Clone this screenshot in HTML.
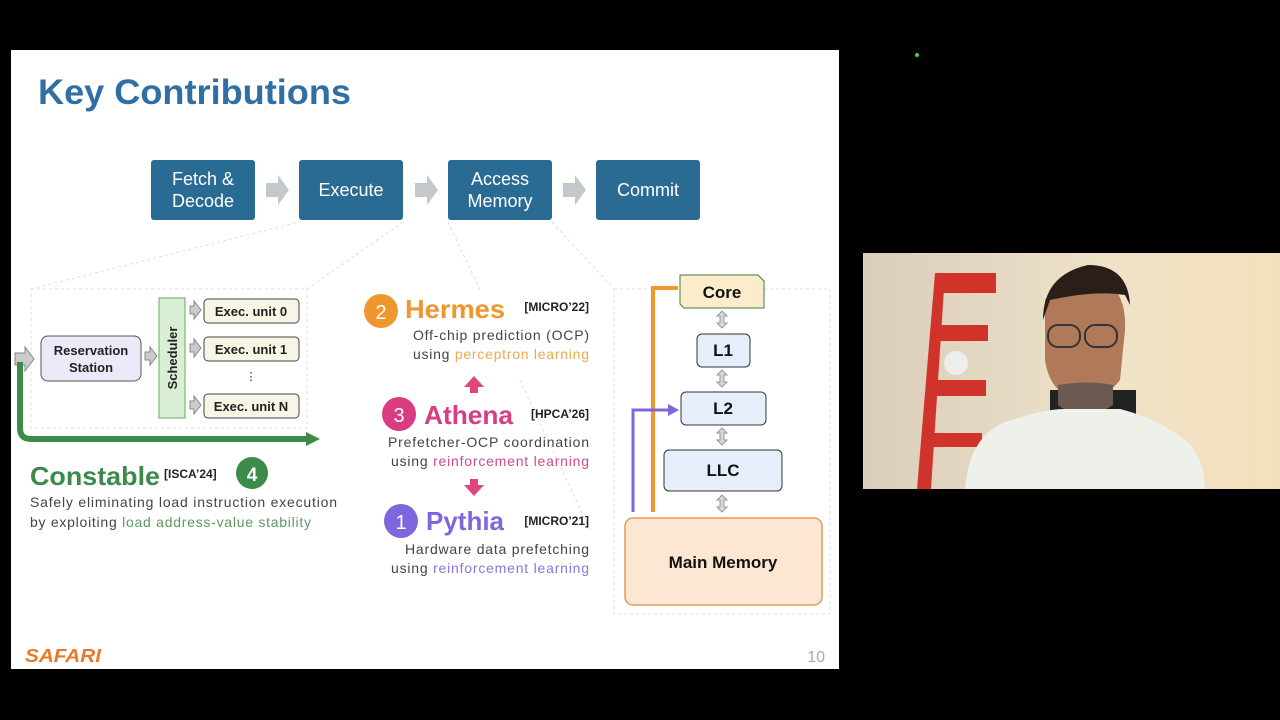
<!DOCTYPE html>
<html><head><meta charset="utf-8"><style>
html,body{margin:0;padding:0;background:#000;width:1280px;height:720px;overflow:hidden}
svg{display:block}
text{font-family:"Liberation Sans",sans-serif}
</style></head><body>
<svg width="1280" height="720" viewBox="0 0 1280 720" xmlns="http://www.w3.org/2000/svg">
<rect width="1280" height="720" fill="#000"/>
<rect x="11" y="50" width="828" height="619" fill="#fff"/>
<circle cx="917" cy="55" r="2" fill="#4c4"/>
<text x="38" y="104" font-size="35" font-weight="bold" fill="#2f6fa3" textLength="313" lengthAdjust="spacingAndGlyphs">Key Contributions</text>

<!-- pipeline -->
<g font-size="18" fill="#fff" text-anchor="middle">
<rect x="151" y="160" width="104" height="60" rx="3" fill="#2a6b94"/>
<text x="203" y="185">Fetch &amp;</text><text x="203" y="207">Decode</text>
<rect x="299" y="160" width="104" height="60" rx="3" fill="#2a6b94"/>
<text x="351" y="196">Execute</text>
<rect x="448" y="160" width="104" height="60" rx="3" fill="#2a6b94"/>
<text x="500" y="185">Access</text><text x="500" y="207">Memory</text>
<rect x="596" y="160" width="104" height="60" rx="3" fill="#2a6b94"/>
<text x="648" y="196">Commit</text>
</g>
<g fill="#c3c8cc">
<path d="M266,183 h12 v-8 l11,15 l-11,15 v-8 h-12z"/>
<path d="M415,183 h12 v-8 l11,15 l-11,15 v-8 h-12z"/>
<path d="M563,183 h12 v-8 l11,15 l-11,15 v-8 h-12z"/>
</g>
<g stroke="#ddd" stroke-dasharray="3,3" fill="none">
<path d="M31,289 L299,222 M307,289 L403,222"/>
<path d="M448,222 L480,290 M552,222 L614,289"/>
<path d="M520,380 L590,530"/>
<rect x="31" y="289" width="276" height="139"/>
<rect x="614" y="289" width="216" height="325"/>
</g>

<!-- execute detail -->
<path d="M15,353 h10 v-6 l9,12 l-9,12 v-6 h-10z" fill="#ccc" stroke="#888"/>
<rect x="41" y="336" width="100" height="45" rx="7" fill="#ebeaf8" stroke="#555"/>
<text x="91" y="355" font-size="13" font-weight="bold" text-anchor="middle" fill="#222">Reservation</text>
<text x="91" y="372" font-size="13" font-weight="bold" text-anchor="middle" fill="#222">Station</text>
<path d="M145,352 h5 v-5 l7,9 l-7,9 v-5 h-5z" fill="#ccc" stroke="#888"/>
<rect x="159" y="298" width="26" height="120" fill="#d9efd4" stroke="#6a6"/>
<text transform="translate(177,358) rotate(-90)" font-size="13" font-weight="bold" text-anchor="middle" fill="#222">Scheduler</text>
<g font-size="13" font-weight="bold" text-anchor="middle" fill="#222">
<path d="M190,306 h4 v-5 l7,9 l-7,9 v-5 h-4z" fill="#ccc" stroke="#888"/>
<rect x="204" y="299" width="95" height="24" rx="4" fill="#f7f5e6" stroke="#444"/><text x="251" y="316">Exec. unit 0</text>
<path d="M190,344 h4 v-5 l7,9 l-7,9 v-5 h-4z" fill="#ccc" stroke="#888"/>
<rect x="204" y="337" width="95" height="24" rx="4" fill="#f7f5e6" stroke="#444"/><text x="251" y="354">Exec. unit 1</text>
<text x="251" y="380" font-weight="normal" font-size="11">⋮</text>
<path d="M190,401 h4 v-5 l7,9 l-7,9 v-5 h-4z" fill="#ccc" stroke="#888"/>
<rect x="204" y="394" width="95" height="24" rx="4" fill="#f7f5e6" stroke="#444"/><text x="251" y="411">Exec. unit N</text>
</g>
<path d="M20,362 V428 Q20,439 31,439 H308" stroke="#3d8b4a" stroke-width="6" fill="none"/>
<path d="M306,432 L320,439 L306,446z" fill="#3d8b4a"/>

<text x="30" y="485" font-size="26" font-weight="bold" fill="#3d8b4a" textLength="130" lengthAdjust="spacingAndGlyphs">Constable</text>
<text x="164" y="478" font-size="12" font-weight="bold" fill="#222">[ISCA’24]</text>
<circle cx="252" cy="473" r="16" fill="#3d8b4a"/>
<text x="252" y="481" font-size="19" font-weight="bold" fill="#fff" text-anchor="middle">4</text>
<text x="30" y="507" font-size="14" fill="#444" textLength="307" lengthAdjust="spacing">Safely eliminating load instruction execution</text>
<text x="30" y="527" font-size="14" fill="#444" textLength="281" lengthAdjust="spacing">by exploiting <tspan fill="#5a9a60">load address-value stability</tspan></text>

<!-- middle -->
<circle cx="381" cy="311" r="17" fill="#f0962e"/><text x="381" y="319" font-size="20" fill="#fff" text-anchor="middle">2</text>
<text x="405" y="318" font-size="26" font-weight="bold" fill="#f0962e" textLength="100" lengthAdjust="spacingAndGlyphs">Hermes</text>
<text x="589" y="311" font-size="12" font-weight="bold" fill="#222" text-anchor="end">[MICRO’22]</text>
<text x="413" y="340" font-size="14" fill="#444" textLength="176" lengthAdjust="spacing">Off-chip prediction (OCP)</text>
<text x="413" y="359" font-size="14" fill="#444" textLength="176" lengthAdjust="spacing">using <tspan fill="#f0a94a">perceptron learning</tspan></text>
<path d="M470,393 v-6 h-6 l10,-11 l10,11 h-6 v6z" fill="#e0457c"/>
<circle cx="399" cy="414" r="17" fill="#d83c82"/><text x="399" y="422" font-size="20" fill="#fff" text-anchor="middle">3</text>
<text x="424" y="424" font-size="26" font-weight="bold" fill="#d83c82" textLength="89" lengthAdjust="spacingAndGlyphs">Athena</text>
<text x="589" y="418" font-size="12" font-weight="bold" fill="#222" text-anchor="end">[HPCA’26]</text>
<text x="388" y="447" font-size="14" fill="#444" textLength="201" lengthAdjust="spacing">Prefetcher-OCP coordination</text>
<text x="391" y="466" font-size="14" fill="#444" textLength="198" lengthAdjust="spacing">using <tspan fill="#cf4a8b">reinforcement learning</tspan></text>
<path d="M470,479 v6 h-6 l10,11 l10,-11 h-6 v-6z" fill="#e0457c"/>
<circle cx="401" cy="521" r="17" fill="#8066dd"/><text x="401" y="529" font-size="20" fill="#fff" text-anchor="middle">1</text>
<text x="426" y="530" font-size="26" font-weight="bold" fill="#8066dd" textLength="78" lengthAdjust="spacingAndGlyphs">Pythia</text>
<text x="589" y="525" font-size="12" font-weight="bold" fill="#222" text-anchor="end">[MICRO’21]</text>
<text x="405" y="554" font-size="14" fill="#444" textLength="184" lengthAdjust="spacing">Hardware data prefetching</text>
<text x="391" y="573" font-size="14" fill="#444" textLength="198" lengthAdjust="spacing">using <tspan fill="#8a75dd">reinforcement learning</tspan></text>

<!-- memory hierarchy -->
<path d="M680,275 H758 L764,281 V308 H684 L680,304z" fill="#fbeccb" stroke="#4a7a3a"/>
<text x="722" y="298" font-size="17" font-weight="bold" text-anchor="middle" fill="#111">Core</text>
<g fill="#e6eefb" stroke="#333">
<rect x="697" y="334" width="53" height="33" rx="5"/>
<rect x="681" y="392" width="85" height="33" rx="5"/>
<rect x="664" y="450" width="118" height="41" rx="5"/>
</g>
<g font-size="17" font-weight="bold" text-anchor="middle" fill="#111">
<text x="723" y="356">L1</text><text x="723" y="414">L2</text><text x="723" y="476">LLC</text>
</g>
<rect x="625" y="518" width="197" height="87" rx="8" fill="#fde6d2" stroke="#e89a52" stroke-width="1.5"/>
<text x="723" y="568" font-size="17" font-weight="bold" text-anchor="middle" fill="#111">Main Memory</text>
<g fill="#d8d8d8" stroke="#999">
<path d="M722,311 l5,5 h-3 v7 h3 l-5,5 l-5,-5 h3 v-7 h-3z"/>
<path d="M722,370 l5,5 h-3 v7 h3 l-5,5 l-5,-5 h3 v-7 h-3z"/>
<path d="M722,428 l5,5 h-3 v7 h3 l-5,5 l-5,-5 h3 v-7 h-3z"/>
<path d="M722,495 l5,5 h-3 v7 h3 l-5,5 l-5,-5 h3 v-7 h-3z"/>
</g>
<path d="M678,288 H653 V512" stroke="#f0962e" stroke-width="4" fill="none"/>
<path d="M633,512 V410 H670" stroke="#8066dd" stroke-width="3" fill="none"/>
<path d="M668,404 L679,410 L668,416z" fill="#8066dd"/>

<text x="25" y="662" font-size="18" font-weight="bold" font-style="italic" fill="#e8782a" textLength="76" lengthAdjust="spacingAndGlyphs">SAFARI</text>
<text x="825" y="662" font-size="16" fill="#aaa" text-anchor="end">10</text>

<!-- webcam -->
<defs><linearGradient id="wall" x1="0" x2="1"><stop offset="0" stop-color="#d9cdbc"/><stop offset="0.6" stop-color="#f0e2c8"/><stop offset="1" stop-color="#f3e0bb"/></linearGradient></defs>
<rect x="863" y="253" width="417" height="236" fill="url(#wall)"/>
<g fill="#d0332a">
<path d="M935,273 h10 l-14,216 h-14z"/>
<rect x="940" y="273" width="56" height="20"/>
<rect x="936" y="325" width="52" height="16"/>
<rect x="930" y="380" width="56" height="16"/>
<rect x="924" y="433" width="58" height="14"/>
</g>
<ellipse cx="956" cy="363" rx="12" ry="12" fill="#eee"/>
<rect x="1050" y="390" width="86" height="50" fill="#222"/>
<path d="M1045,300 q25,-40 60,-20 q22,15 20,50 l-5,50 q-15,20 -40,20 q-30,-5 -35,-40z" fill="#b07a5a"/>
<path d="M1043,320 q0,-45 45,-55 q40,0 42,40 l-5,-10 q-30,-5 -75,5z" fill="#2b1e18"/>
<path d="M1058,405 q25,20 55,0 l0,-20 q-25,-5 -55,0z" fill="#6a5a50"/>
<rect x="1048" y="325" width="32" height="22" rx="10" fill="none" stroke="#333" stroke-width="2"/>
<rect x="1085" y="325" width="32" height="22" rx="10" fill="none" stroke="#333" stroke-width="2"/>
<path d="M965,489 q5,-60 50,-70 q30,-10 50,-10 l55,0 q40,10 70,35 q15,20 15,45z" fill="#eef0ea"/>
</svg>
</body></html>
